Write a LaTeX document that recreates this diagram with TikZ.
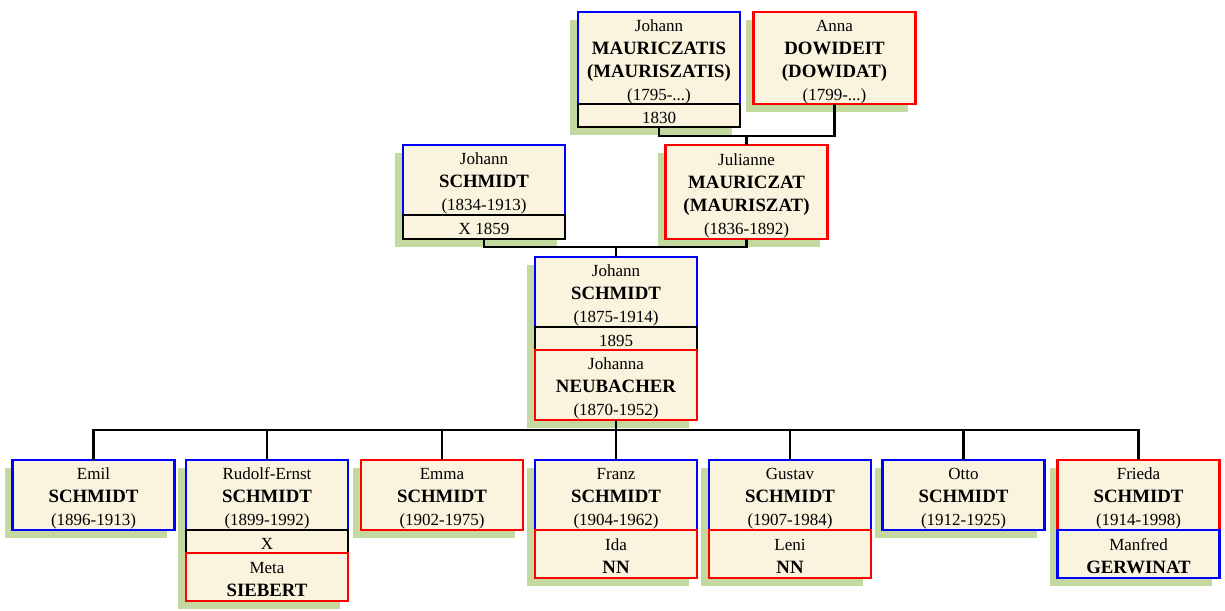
\documentclass[tikz,border=0pt]{standalone}
\usepackage{fontspec}
\setmainfont{Liberation Serif}
\usetikzlibrary{positioning, shadows}
\definecolor{cardfill}{RGB}{250,243,221}
\definecolor{shadegreen}{RGB}{195,217,160}
\newcommand\famname[1]{{\fontsize{18.8}{23}\selectfont\bfseries #1}}
\newcommand\cardtext[1]{\raisebox{-3pt}[\height][\depth]{\begin{tabular}{@{}c@{}}#1\end{tabular}}}
\tikzset{
  card/.style={draw, line width=2.7pt, fill=cardfill, minimum width=162pt,
    minimum height=70pt, inner sep=0pt, outer sep=0pt,
    font=\fontsize{17}{23}\selectfont,
    drop shadow={shadow xshift=-8pt, shadow yshift=-8pt, fill=shadegreen, opacity=1}},
  man/.style={card, draw=blue},
  woman/.style={card, draw=red},
  wedding/.style={card, draw=black, minimum height=23pt},
  spouse/.style={minimum height=48pt},
  link/.style={draw=black, line width=2.8pt}
}
\begin{document}
\begin{tikzpicture}[x=1pt, y=-1pt]
\useasboundingbox (0,0) rectangle (1225,610);

% grandparents of Johann (1875)
\node[man, anchor=north, minimum height=92pt] (jmau) at (659,12)
  {\cardtext{Johann\\\famname{MAURICZATIS}\\\famname{(MAURISZATIS)}\\(1795-...)}};
\node[wedding, below=0pt of jmau] (w1830) {\cardtext{1830}};
\node[woman, anchor=north, minimum height=92pt] (anna) at (834.5,12)
  {\cardtext{Anna\\\famname{DOWIDEIT}\\\famname{(DOWIDAT)}\\(1799-...)}};

% parents
\node[man, anchor=north] (jsch) at (484,145)
  {\cardtext{Johann\\\famname{SCHMIDT}\\(1834-1913)}};
\node[wedding, minimum height=24pt, below=0pt of jsch] (w1859) {\cardtext{X 1859}};
\node[woman, anchor=north, minimum height=94pt] (jul) at (746.5,145)
  {\cardtext{Julianne\\\famname{MAURICZAT}\\\famname{(MAURISZAT)}\\(1836-1892)}};

% central couple
\node[man, anchor=north] (jsch2) at (616,257)
  {\cardtext{Johann\\\famname{SCHMIDT}\\(1875-1914)}};
\node[wedding, below=0pt of jsch2] (w1895) {\cardtext{1895}};
\node[woman, below=0pt of w1895] (johanna)
  {\cardtext{Johanna\\\famname{NEUBACHER}\\(1870-1952)}};

% children
\node[man, anchor=north] (emil) at (93.5,460)
  {\cardtext{Emil\\\famname{SCHMIDT}\\(1896-1913)}};
\node[man, anchor=north] (rudolf) at (267,460)
  {\cardtext{Rudolf-Ernst\\\famname{SCHMIDT}\\(1899-1992)}};
\node[wedding, below=0pt of rudolf] (wrud) {\cardtext{X}};
\node[woman, spouse, below=0pt of wrud] (meta) {\cardtext{Meta\\\famname{SIEBERT}}};
\node[woman, anchor=north] (emma) at (442,460)
  {\cardtext{Emma\\\famname{SCHMIDT}\\(1902-1975)}};
\node[man, anchor=north] (franz) at (616,460)
  {\cardtext{Franz\\\famname{SCHMIDT}\\(1904-1962)}};
\node[woman, spouse, below=0pt of franz] (ida) {\cardtext{Ida\\\famname{NN}}};
\node[man, anchor=north] (gustav) at (790,460)
  {\cardtext{Gustav\\\famname{SCHMIDT}\\(1907-1984)}};
\node[woman, spouse, below=0pt of gustav] (leni) {\cardtext{Leni\\\famname{NN}}};
\node[man, anchor=north] (otto) at (963.5,460)
  {\cardtext{Otto\\\famname{SCHMIDT}\\(1912-1925)}};
\node[woman, anchor=north] (frieda) at (1138.5,460)
  {\cardtext{Frieda\\\famname{SCHMIDT}\\(1914-1998)}};
\node[man, spouse, below=0pt of frieda] (manfred) {\cardtext{Manfred\\\famname{GERWINAT}}};

% connectors
\coordinate (bar1) at (746.5,136);
\coordinate (bar2) at (616,247);
\coordinate (bar3) at (616,430);
\draw[link] (w1830.south) |- (bar1) -| (anna.south);
\draw[link] (bar1) -- (jul.north);
\draw[link] (w1859.south) |- (bar2) -| (jul.south);
\draw[link] (bar2) -- (jsch2.north);
\draw[link] (johanna.south) -- (bar3);
\foreach \kid in {emil, rudolf, emma, franz, gustav, otto, frieda}
  \draw[link] (bar3) -| (\kid.north);
\end{tikzpicture}
\end{document}
